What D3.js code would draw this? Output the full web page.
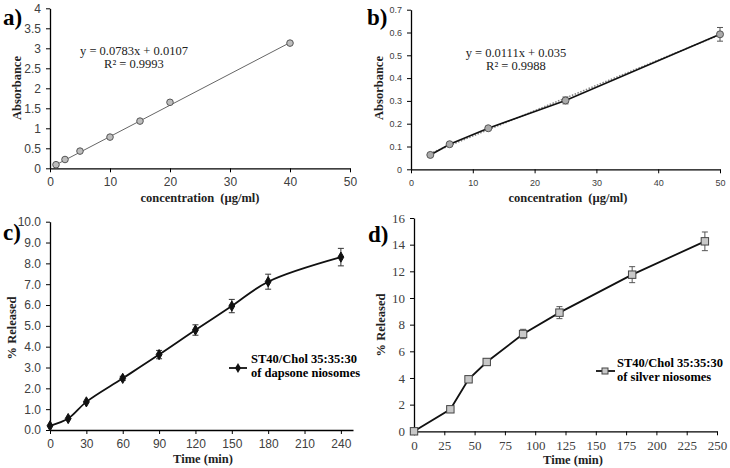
<!DOCTYPE html>
<html>
<head>
<meta charset="utf-8">
<script src="https://cdn.jsdelivr.net/npm/d3@7"></script>
<style>
  body { margin: 0; background: #fff; }
  svg { display: block; }
  text { white-space: pre; }
</style>
</head>
<body>
<div id="chart"></div>
<script>
// a) dapsone calibration
const concA = [1, 2.5, 5, 10, 15, 20, 40];
const absA = [0.09, 0.22, 0.43, 0.78, 1.18, 1.65, 3.13];
const fitA = { slope: 0.0783, intercept: 0.0107 };
const yTicksA = [0, 0.5, 1, 1.5, 2, 2.5, 3, 3.5, 4];
const xTicksA = [0, 10, 20, 30, 40, 50];

// b) silver calibration
const concB = [3.125, 6.25, 12.5, 25, 50];
const absB = [0.063, 0.11, 0.18, 0.302, 0.592];
const errB = [0.004, 0.005, 0.007, 0.015, 0.03];
const fitB = { slope: 0.0111, intercept: 0.035 };
const yTicksB = [0, 0.1, 0.2, 0.3, 0.4, 0.5, 0.6, 0.7];
const xTicksB = [0, 10, 20, 30, 40, 50];

// c) dapsone niosomes release
const timeC = [0, 15, 30, 60, 90, 120, 150, 180, 240];
const relC = [0.2, 0.55, 1.35, 2.48, 3.62, 4.8, 5.95, 7.12, 8.3];
const errC = [0.05, 0.06, 0.08, 0.1, 0.2, 0.25, 0.32, 0.36, 0.42];
const xTicksC = [0, 30, 60, 90, 120, 150, 180, 210, 240];
const yTicksC = [0, 1, 2, 3, 4, 5, 6, 7, 8, 9, 10];

// d) silver niosomes release
const timeD = [0, 30, 45, 60, 90, 120, 180, 240];
const relD = [0, 1.65, 3.9, 5.2, 7.3, 8.9, 11.75, 14.25];
const errD = [0, 0.08, 0.12, 0.22, 0.35, 0.45, 0.6, 0.7];
const xTicksD = [0, 25, 50, 75, 100, 125, 150, 175, 200, 225, 250];
const yTicksD = [0, 2, 4, 6, 8, 10, 12, 14, 16];

const width = 730, height = 468;
const svg = d3.select("#chart").append("svg")
    .attr("width", width)
    .attr("height", height);

const serif = '"Liberation Serif", "Times New Roman", serif';
const sans = '"Liberation Sans", Arial, sans-serif';

// draws the two axes of one panel
function drawAxes(g, x, y, opts) {
    const xAxis = g.append("g")
        .attr("transform", `translate(0,${y.range()[0]})`)
        .call(d3.axisBottom(x).tickValues(opts.xTicks).tickSize(4).tickSizeOuter(0).tickFormat(opts.xFmt || d3.format("")));
    const yAxis = g.append("g")
        .attr("transform", `translate(${x.range()[0]},0)`)
        .call(d3.axisLeft(y).tickValues(opts.yTicks).tickSize(4).tickSizeOuter(0).tickFormat(opts.yFmt || d3.format("")));
    [xAxis, yAxis].forEach(ax => {
        ax.select(".domain").attr("stroke", "#000").attr("stroke-width", 1.3);
        ax.selectAll(".tick line").attr("stroke", "#000");
        ax.selectAll("text")
            .attr("fill", "#404040")
            .style("font-family", opts.tickFont)
            .style("font-size", opts.tickSize + "px");
    });
    xAxis.selectAll("text").attr("dy", opts.xDy || "0.9em");
    yAxis.selectAll("text").attr("dx", "-2");
}

function label(txt, px, py, size) {
    svg.append("text")
        .attr("x", px).attr("y", py)
        .attr("font-family", serif)
        .attr("font-weight", "bold")
        .attr("font-size", size)
        .text(txt);
}

function axisTitle(txt, px, py, rotate) {
    svg.append("text")
        .attr("transform", `translate(${px},${py})` + (rotate ? " rotate(-90)" : ""))
        .attr("text-anchor", "middle")
        .attr("font-family", serif)
        .attr("font-weight", "bold")
        .attr("font-size", 12.5)
        .attr("fill", "#222")
        .text(txt);
}

function errorBars(g, xs, ys, es, x, y, color) {
    xs.forEach((xv, i) => {
        if (es[i] < 0.01 * (y.domain()[1])) return;
        const cx = x(xv), top = y(ys[i] + es[i]), bot = y(ys[i] - es[i]);
        g.append("line").attr("x1", cx).attr("x2", cx).attr("y1", top).attr("y2", bot)
            .attr("stroke", color).attr("stroke-width", 1);
        [top, bot].forEach(yy => g.append("line")
            .attr("x1", cx - 3).attr("x2", cx + 3).attr("y1", yy).attr("y2", yy)
            .attr("stroke", color).attr("stroke-width", 1));
    });
}

function equation(g, cx, cy, fit, r2) {
    g.append("text").attr("x", cx).attr("y", cy).attr("text-anchor", "middle")
        .attr("font-family", serif).attr("font-size", 12.5).attr("fill", "#222")
        .text(`y = ${fit.slope}x + ${fit.intercept}`);
    g.append("text").attr("x", cx).attr("y", cy + 13).attr("text-anchor", "middle")
        .attr("font-family", serif).attr("font-size", 12.5).attr("fill", "#222")
        .text(`R² = ${r2}`);
}

// ---------- panel a ----------
{
    const g = svg.append("g");
    const x = d3.scaleLinear().domain([0, 50]).range([50, 350]);
    const y = d3.scaleLinear().domain([0, 4]).range([168.3, 8.3]);
    drawAxes(g, x, y, { xTicks: xTicksA, yTicks: yTicksA, tickFont: sans, tickSize: 12 });

    const x0 = d3.min(concA), x1 = d3.max(concA);
    g.append("line")
        .attr("x1", x(x0)).attr("y1", y(fitA.slope * x0 + fitA.intercept))
        .attr("x2", x(x1)).attr("y2", y(fitA.slope * x1 + fitA.intercept))
        .attr("stroke", "#666").attr("stroke-width", 1);

    g.selectAll("circle.pt").data(concA).enter().append("circle")
        .attr("cx", d => x(d))
        .attr("cy", (d, i) => y(absA[i]))
        .attr("r", 3.3)
        .attr("fill", "#bdbdbd")
        .attr("stroke", "#555")
        .attr("stroke-width", 1);

    equation(g, 134, 55, fitA, "0.9993");

    label("a)", 3, 25, 23);
    axisTitle("Absorbance", 21, 88, true);
    axisTitle("concentration  (µg/ml)", 200, 202, false);
}

// ---------- panel b ----------
{
    const g = svg.append("g");
    const x = d3.scaleLinear().domain([0, 50]).range([411, 720]);
    const y = d3.scaleLinear().domain([0, 0.7]).range([169.3, 9.7]);
    drawAxes(g, x, y, { xTicks: xTicksB, yTicks: yTicksB, tickFont: sans, tickSize: 9, xDy: "1.1em" });

    const x0 = d3.min(concB), x1 = d3.max(concB);
    g.append("line")
        .attr("x1", x(x0)).attr("y1", y(fitB.slope * x0 + fitB.intercept))
        .attr("x2", x(x1)).attr("y2", y(fitB.slope * x1 + fitB.intercept))
        .attr("stroke", "#888").attr("stroke-width", 1.6)
        .attr("stroke-dasharray", "1.5,1.5");

    const line = d3.line().x((d, i) => x(concB[i])).y((d, i) => y(absB[i]));
    g.append("path").datum(concB).attr("d", line)
        .attr("fill", "none").attr("stroke", "#111").attr("stroke-width", 1.6);

    errorBars(g, concB, absB, errB, x, y, "#555");

    g.selectAll("circle.pt").data(concB).enter().append("circle")
        .attr("cx", d => x(d))
        .attr("cy", (d, i) => y(absB[i]))
        .attr("r", 3.5)
        .attr("fill", "#aaa")
        .attr("stroke", "#555")
        .attr("stroke-width", 1);

    equation(g, 516, 57, fitB, "0.9988");

    label("b)", 367, 25, 23);
    axisTitle("Absorbance", 383, 88, true);
    axisTitle("concentration  (µg/ml)", 568, 202, false);
}

// ---------- panel c ----------
{
    const g = svg.append("g");
    const x = d3.scaleLinear().domain([0, 250]).range([50, 353]);
    const y = d3.scaleLinear().domain([0, 10]).range([430, 221.7]);
    drawAxes(g, x, y, { xTicks: xTicksC, yTicks: yTicksC, tickFont: sans, tickSize: 12,
        yFmt: d3.format(".1f") });

    const line = d3.line().curve(d3.curveCatmullRom.alpha(0.5))
        .x((d, i) => x(timeC[i])).y((d, i) => y(relC[i]));
    g.append("path").datum(timeC).attr("d", line)
        .attr("fill", "none").attr("stroke", "#111").attr("stroke-width", 1.8);

    errorBars(g, timeC, relC, errC, x, y, "#333");

    const diamond = d3.symbol().type(d3.symbolDiamond).size(30);
    g.selectAll("path.pt").data(timeC).enter().append("path")
        .attr("transform", (d, i) => `translate(${x(d)},${y(relC[i])})`)
        .attr("d", diamond)
        .attr("fill", "#111")
        .attr("stroke", "#111")
        .attr("stroke-width", 1)
        .attr("stroke-linejoin", "round");

    // legend
    g.append("line").attr("x1", 229).attr("x2", 247).attr("y1", 368).attr("y2", 368)
        .attr("stroke", "#111").attr("stroke-width", 1.8);
    g.append("path").attr("transform", "translate(238,368)").attr("d", diamond).attr("fill", "#111");
    g.append("text").attr("x", 251).attr("y", 363).attr("font-family", serif)
        .attr("font-weight", "bold").attr("font-size", 12.5).text("ST40/Chol 35:35:30");
    g.append("text").attr("x", 251).attr("y", 377).attr("font-family", serif)
        .attr("font-weight", "bold").attr("font-size", 12.5).text("of dapsone niosomes");

    label("c)", 3, 240, 23);
    axisTitle("% Released", 16, 328, true);
    axisTitle("Time (min)", 203, 463, false);
}

// ---------- panel d ----------
{
    const g = svg.append("g");
    const x = d3.scaleLinear().domain([0, 250]).range([414, 717]);
    const y = d3.scaleLinear().domain([0, 16]).range([431.3, 218]);
    drawAxes(g, x, y, { xTicks: xTicksD, yTicks: yTicksD, tickFont: serif, tickSize: 13 });

    const line = d3.line().x((d, i) => x(timeD[i])).y((d, i) => y(relD[i]));
    g.append("path").datum(timeD).attr("d", line)
        .attr("fill", "none").attr("stroke", "#111").attr("stroke-width", 1.8);

    errorBars(g, timeD, relD, errD, x, y, "#555");

    g.selectAll("rect.pt").data(timeD).enter().append("rect")
        .attr("x", d => x(d) - 3.7)
        .attr("y", (d, i) => y(relD[i]) - 3.7)
        .attr("width", 7.4).attr("height", 7.4)
        .attr("fill", "#c8c8c8")
        .attr("stroke", "#444")
        .attr("stroke-width", 1);

    // legend
    g.append("line").attr("x1", 596).attr("x2", 615).attr("y1", 371).attr("y2", 371)
        .attr("stroke", "#111").attr("stroke-width", 1.8);
    g.append("rect").attr("x", 602).attr("y", 368).attr("width", 6).attr("height", 6)
        .attr("fill", "#c8c8c8").attr("stroke", "#444");
    g.append("text").attr("x", 617).attr("y", 367).attr("font-family", serif)
        .attr("font-weight", "bold").attr("font-size", 12.5).text("ST40/Chol 35:35:30");
    g.append("text").attr("x", 617).attr("y", 381).attr("font-family", serif)
        .attr("font-weight", "bold").attr("font-size", 12.5).text("of silver niosomes");

    label("d)", 368, 242, 23);
    axisTitle("% Released", 385, 325, true);
    axisTitle("Time (min)", 573, 464, false);
}
</script>
</body>
</html>
